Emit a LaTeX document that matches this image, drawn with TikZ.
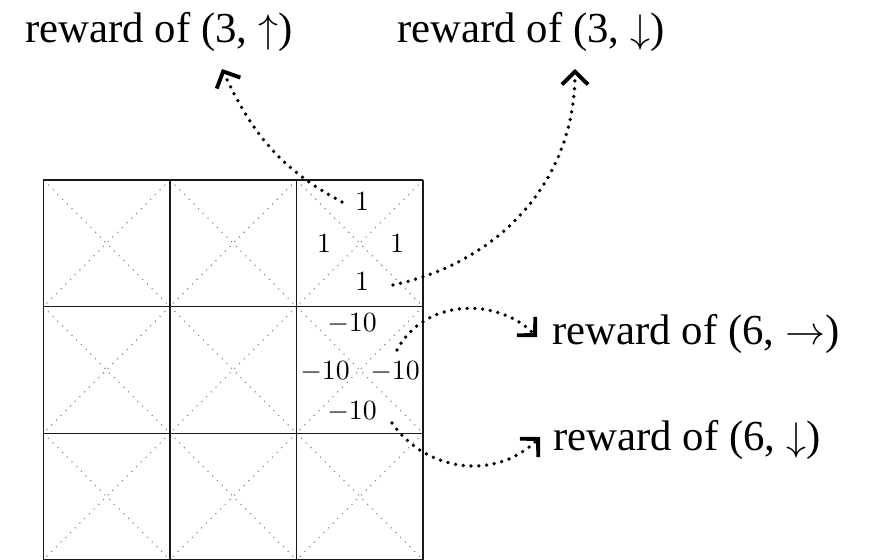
\documentclass[tikz,border=0pt]{standalone}
\usepackage{fontspec}
\newfontfamily\lblfont{Liberation Serif}
\usetikzlibrary{arrows.meta}
\begin{document}
\begin{tikzpicture}[x=0.36pt,y=-0.36pt,
  cellline/.style={black!90, line width=0.5pt},
  diag/.style={gray, line width=0.4pt, dotted},
  val/.style={inner sep=0pt, font=\normalsize},
  lbl/.style={inner sep=0pt, font=\fontsize{15.4}{18}\lblfont},
  curvy/.style={line width=1.35pt, line cap=round, dash pattern=on 0pt off 2.8pt,
    -{Straight Barb[length=4.6pt,width=9.4pt,line width=1.4pt]}}]
\useasboundingbox (0,0) rectangle (874,560);
% grid
\foreach \i in {0,1,2} {
  \foreach \j in {0,1,2} {
    \draw[diag] (43.3+126.6*\i,180+126.6*\j) -- ++(126.6,126.6);
    \draw[diag] (43.3+126.6*\i+126.6,180+126.6*\j) -- ++(-126.6,126.6);
  }
}
\foreach \k in {0,1,2,3} {
  \draw[cellline] (43.3+126.6*\k,180) -- (43.3+126.6*\k,559.8);
  \draw[cellline] (43.3,180+126.6*\k) -- (423.1,180+126.6*\k);
}
% values of state 3
\node[val] (t3) at (362,202) {$1$};
\node[val] (l3) at (324,244) {$1$};
\node[val] (r3) at (397,244) {$1$};
\node[val] (b3) at (362,282) {$1$};
% values of state 6
\node[val] (t6) at (352,324) {$-10$};
\node[val] (l6) at (325,372) {$-10$};
\node[val] (r6) at (395,372) {$-10$};
\node[val] (b6) at (352,412) {$-10$};
% labels
\node[lbl] (L3u) at (159,32) {reward of (3, $\uparrow$)};
\node[lbl] (L3d) at (531,32) {reward of (3, $\downarrow$)};
\node[lbl, anchor=west] (L6r) at (552,334) {reward of (6, $\rightarrow$)};
\node[lbl, anchor=west] (L6d) at (553,440) {reward of (6, $\downarrow$)};
% connector ends
\coordinate (s1) at (342,202); \coordinate (e1) at (222,69);
\coordinate (s2) at (393,285); \coordinate (e2) at (575,69);
\coordinate (s3) at (397,350); \coordinate (e3) at (537,337);
\coordinate (s4) at (392,423); \coordinate (e4) at (540,437);
\draw[curvy] (s1) to[out=152,in=-65] (e1);
\draw[curvy] (s2) to[out=12,in=-90] (e2);
\draw[curvy] (s3) to[out=62,in=135,looseness=1.05] (e3);
\draw[curvy] (s4) to[out=-55,in=-135,looseness=1.05] (e4);
\end{tikzpicture}
\end{document}
